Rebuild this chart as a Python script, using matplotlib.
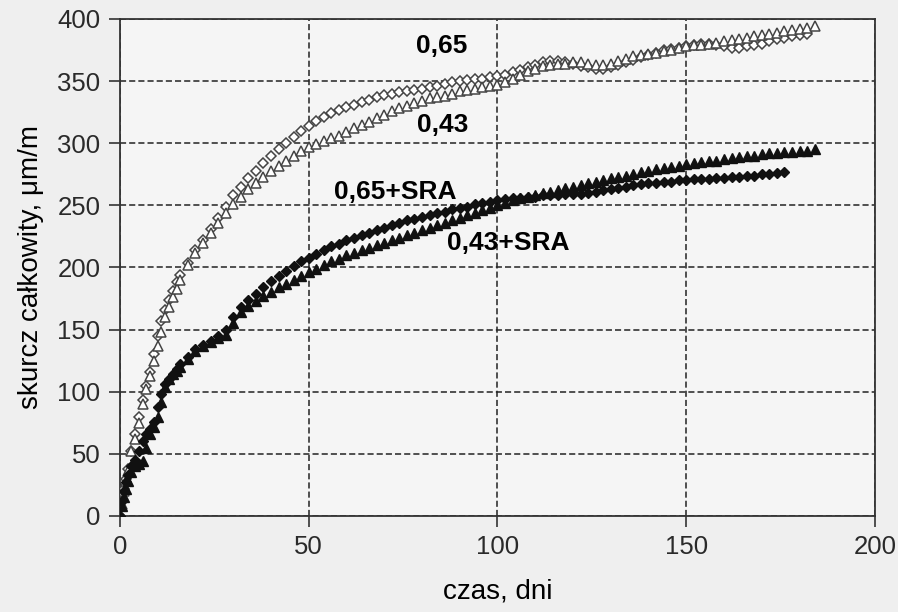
"""Skurcz całkowity betonu w czasie - odtworzenie wykresu."""

import matplotlib.pyplot as plt

plt.rcParams['font.family'] = ['Liberation Sans', 'DejaVu Sans']

# dni pomiaru (wspólne)
days = [0, 0.5, 1, 1.5, 2, 3, 4, 5, 6, 7, 8, 9, 10, 11, 12, 13, 14, 15, 16,
        18, 20, 22, 24, 26, 28, 30, 32, 34, 36, 38, 40, 42, 44, 46, 48, 50,
        52, 54, 56, 58, 60, 62, 64, 66, 68, 70, 72, 74, 76, 78, 80, 82, 84,
        86, 88, 90, 92, 94, 96, 98, 100, 102, 104, 106, 108, 110, 112, 114,
        116, 118, 120, 122, 124, 126, 128, 130, 132, 134, 136, 138, 140, 142,
        144, 146, 148, 150, 152, 154, 156, 158, 160, 162, 164, 166, 168, 170,
        172, 174, 176, 178, 180, 182, 184]

# w/c = 0,65
s065 = [0, 12, 22, 30, 38, 52, 66, 80, 93, 105, 116, 130, 145, 157, 166, 174,
        181, 188, 194, 204, 214, 222, 231, 240, 249, 258, 265, 272, 278, 284,
        290, 295, 300, 305, 310, 314, 318, 321, 324, 327, 329, 331, 333, 335,
        337, 339, 340, 341, 342, 343, 344, 345, 346, 348, 349, 350, 351, 352,
        352, 353, 354, 355, 357, 359, 361, 363, 365, 366, 366, 365, 364, 362,
        361, 360, 360, 361, 363, 365, 367, 369, 371, 373, 375, 376, 377, 378,
        379, 380, 380, 379, 378, 377, 377, 378, 379, 380, 382, 384, 385, 386,
        387, 388]

# w/c = 0,43
s043 = [0, 10, 20, 28, 36, 52, 62, 75, 90, 102, 113, 125, 137, 148, 160, 168,
        176, 183, 190, 202, 212, 220, 228, 236, 244, 251, 257, 263, 268, 273,
        278, 282, 286, 290, 294, 297, 299, 302, 304, 306, 309, 312, 315, 317,
        320, 323, 326, 328, 330, 332, 334, 336, 337, 338, 340, 342, 343, 344,
        345, 346, 347, 349, 352, 355, 358, 360, 362, 363, 364, 364, 365, 365,
        364, 363, 363, 364, 366, 368, 370, 371, 372, 373, 374, 375, 377, 378,
        379, 379, 380, 381, 382, 383, 384, 385, 386, 387, 388, 389, 390, 391,
        392, 393, 394]

# w/c = 0,65 + SRA
s065_sra = [0, 12, 20, 27, 33, 40, 45, 52, 60, 66, 70, 76, 88, 98, 106, 110,
            114, 118, 122, 128, 134, 138, 141, 145, 150, 160, 168, 174, 179,
            184, 189, 193, 197, 201, 205, 208, 211, 214, 217, 219, 222, 224,
            226, 228, 230, 232, 234, 236, 238, 239, 241, 242, 244, 245, 247,
            248, 249, 251, 252, 253, 254, 255, 256, 256, 257, 257, 258, 258,
            258, 259, 259, 259, 260, 261, 262, 263, 264, 265, 266, 267, 268,
            268, 269, 269, 270, 270, 271, 271, 271, 272, 272, 273, 273, 274,
            274, 275, 275, 276, 277]

# w/c = 0,43 + SRA
s043_sra = [0, 8, 15, 22, 28, 35, 40, 42, 44, 55, 66, 72, 80, 92, 104, 110,
            114, 117, 120, 126, 133, 137, 140, 143, 146, 155, 164, 169, 173,
            177, 180, 184, 187, 190, 193, 196, 199, 202, 205, 207, 210, 212,
            214, 216, 218, 220, 222, 224, 226, 228, 230, 232, 234, 236, 238,
            240, 242, 244, 246, 248, 250, 252, 254, 256, 257, 258, 260, 261,
            262, 264, 265, 266, 268, 269, 270, 272, 273, 274, 275, 277, 278,
            279, 280, 281, 282, 283, 284, 285, 286, 286, 287, 288, 289, 290,
            290, 291, 292, 292, 293, 293, 294, 294, 295]

labels = ['0,65', '0,43', '0,65+SRA', '0,43+SRA']
label_pos = [(85.3, 378), (85.6, 315), (72.8, 261), (102.8, 220)]

fig = plt.figure(figsize=(8.98, 6.12), dpi=100, facecolor='#efefef')
ax = fig.add_axes([0.1336, 0.1569, 0.8408, 0.8121])
ax.set_facecolor('#f5f5f5')

ax.plot(days[:len(s065)], s065, ls='none', marker='D', ms=5.5, mfc='white',
        mec='#444444', mew=1.1, zorder=3)
ax.plot(days[:len(s043)], s043, ls='none', marker='^', ms=6.5, mfc='white',
        mec='#444444', mew=1.1, zorder=3)
ax.plot(days[:len(s065_sra)], s065_sra, ls='none', marker='D', ms=5.5,
        mfc='#111111', mec='#111111', mew=1.0, zorder=3)
ax.plot(days[:len(s043_sra)], s043_sra, ls='none', marker='^', ms=7,
        mfc='#111111', mec='#111111', mew=1.0, zorder=3)

for txt, (x, y) in zip(labels, label_pos):
    ax.text(x, y, txt, fontsize=19, fontweight='bold', ha='center',
            va='center', color='black', zorder=4)

ax.set_xlim(0, 200)
ax.set_ylim(0, 400)
ax.set_xticks([0, 50, 100, 150, 200])
ax.set_yticks(range(0, 401, 50))
ax.grid(True, color='#222222', ls=(0, (4, 2)), lw=1.1)
ax.set_axisbelow(True)
for sp in ax.spines.values():
    sp.set_color('#333333')
    sp.set_linewidth(1.3)
ax.tick_params(direction='out', length=8, width=1.2, color='#333333',
               labelsize=18.5, labelcolor='#2a2a2a', pad=6)

ax.set_xlabel('czas, dni', fontsize=20, labelpad=14)
ax.set_ylabel('skurcz całkowity, μm/m', fontsize=20, labelpad=10)

fig.savefig('out.png', dpi=100, facecolor=fig.get_facecolor())
